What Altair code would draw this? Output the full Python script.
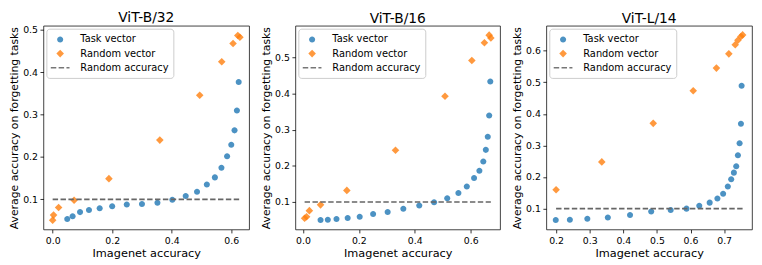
import altair as alt
import pandas as pd

# ---------------- data ----------------
panel_titles = ["ViT-B/32", "ViT-B/16", "ViT-L/14"]
series_names = ["Task vector", "Random vector", "Random accuracy"]
random_accuracy = 0.1

b32_task_x = [0.049, 0.067, 0.092, 0.122, 0.158, 0.200, 0.249, 0.300, 0.352, 0.402,
              0.447, 0.485, 0.518, 0.545, 0.567, 0.586, 0.600, 0.611, 0.619, 0.625]
b32_task_y = [0.054, 0.060, 0.070, 0.075, 0.079, 0.084, 0.088, 0.089, 0.092, 0.099,
              0.108, 0.118, 0.135, 0.152, 0.175, 0.202, 0.229, 0.263, 0.310, 0.377]
b32_rand_x = [0.000, 0.003, 0.020, 0.072, 0.189, 0.360, 0.494, 0.568, 0.606, 0.622, 0.629]
b32_rand_y = [0.051, 0.063, 0.081, 0.098, 0.149, 0.240, 0.346, 0.425, 0.468, 0.487, 0.483]
b32_line_x = [0.0, 0.629]

b16_task_x = [0.063, 0.089, 0.120, 0.160, 0.203, 0.251, 0.303, 0.359, 0.416, 0.469,
              0.516, 0.556, 0.586, 0.612, 0.631, 0.645, 0.654, 0.661, 0.666, 0.670]
b16_task_y = [0.050, 0.051, 0.053, 0.056, 0.059, 0.067, 0.072, 0.081, 0.090, 0.099,
              0.110, 0.125, 0.143, 0.166, 0.186, 0.212, 0.244, 0.280, 0.339, 0.433]
b16_rand_x = [0.006, 0.013, 0.023, 0.063, 0.157, 0.331, 0.508, 0.604, 0.649, 0.666, 0.672]
b16_rand_y = [0.055, 0.059, 0.076, 0.092, 0.132, 0.243, 0.392, 0.491, 0.540, 0.561, 0.553]
b16_line_x = [0.006, 0.672]

l14_task_x = [0.199, 0.241, 0.293, 0.354, 0.420, 0.483, 0.541, 0.588, 0.626, 0.657,
              0.680, 0.697, 0.711, 0.721, 0.729, 0.736, 0.741, 0.746, 0.750, 0.752]
l14_task_y = [0.064, 0.065, 0.068, 0.072, 0.080, 0.091, 0.096, 0.100, 0.109, 0.119,
              0.132, 0.147, 0.170, 0.193, 0.214, 0.234, 0.269, 0.307, 0.369, 0.489]
l14_rand_x = [0.200, 0.336, 0.489, 0.608, 0.677, 0.714, 0.733, 0.741, 0.750, 0.755]
l14_rand_y = [0.160, 0.248, 0.370, 0.473, 0.545, 0.590, 0.619, 0.633, 0.645, 0.650]
l14_line_x = [0.200, 0.755]

x_domains = [[-0.031, 0.660], [-0.027, 0.705], [0.171, 0.783]]
y_domains = [[0.029, 0.510], [0.024, 0.587], [0.034, 0.679]]
x_ticks = [[0.0, 0.1, 0.2, 0.3, 0.4, 0.5, 0.6], [0.0, 0.2, 0.4, 0.6],
           [0.2, 0.3, 0.4, 0.5, 0.6, 0.7]]
y_ticks = [[0.1, 0.2, 0.3, 0.4, 0.5], [0.1, 0.2, 0.3, 0.4, 0.5],
           [0.1, 0.2, 0.3, 0.4, 0.5, 0.6]]

# ---------------- style ----------------
FONT = "DejaVu Sans"
colors = ["#1f77b4", "#ff7f0e", "#555555"]
shapes = [
    "M0.5,0A0.5,0.5,0,1,1,-0.5,0A0.5,0.5,0,1,1,0.5,0Z",
    "M0,-0.63L0.63,0L0,0.63L-0.63,0Z",
    "M-1.552,-0.13H-0.645V0.13H-1.552Z M-0.253,-0.13H0.654V0.13H-0.253Z "
    "M1.046,-0.13H1.552V0.13H1.046Z",
]
widths = [209, 208, 209]
HEIGHT = 207


def panel(i, tx, ty, rx, ry, lx):
    pts = pd.DataFrame({
        "x": tx + rx,
        "y": ty + ry,
        "series": [series_names[0]] * len(tx) + [series_names[1]] * len(rx),
    })
    line = pd.DataFrame({"x": [lx[0]], "x2": [lx[1]], "y": [random_accuracy]})
    xs = alt.Scale(domain=x_domains[i], nice=False, zero=False)
    ys = alt.Scale(domain=y_domains[i], nice=False, zero=False)
    xax = alt.Axis(values=x_ticks[i], format=".1f", title="Imagenet accuracy",
                   titleFontSize=11.5, titlePadding=3, labelFlush=False)
    yax = alt.Axis(values=y_ticks[i], format=".1f",
                   title="Average accuracy on forgetting tasks",
                   titleFontSize=11, titlePadding=3)
    leg = alt.Legend(title=None, orient="top-left", offset=3, padding=4.5,
                     symbolSize=150, symbolOffset=3, labelOffset=14,
                     rowPadding=2.3, labelFontSize=10, labelFont=FONT,
                     labelColor="black", fillColor="white",
                     strokeColor="#cccccc", cornerRadius=3,
                     symbolStrokeWidth=0)
    points = alt.Chart(pts).mark_point(filled=True, size=150, opacity=0.8).encode(
        x=alt.X("x:Q", scale=xs, axis=xax),
        y=alt.Y("y:Q", scale=ys, axis=yax),
        color=alt.Color("series:N", scale=alt.Scale(domain=series_names, range=colors),
                        legend=leg),
        shape=alt.Shape("series:N", scale=alt.Scale(domain=series_names, range=shapes),
                        legend=leg),
    )
    rule = alt.Chart(line).mark_rule(color="#666666", strokeWidth=1.6,
                                     strokeDash=[5.5, 2.5]).encode(
        x=alt.X("x:Q", scale=xs),
        x2="x2:Q",
        y=alt.Y("y:Q", scale=ys),
    )
    return alt.layer(points, rule).properties(
        width=widths[i], height=HEIGHT,
        title=alt.TitleParams(panel_titles[i], fontSize=14, font=FONT,
                              fontWeight="normal", color="black", offset=0),
    )


p1 = panel(0, b32_task_x, b32_task_y, b32_rand_x, b32_rand_y, b32_line_x)
p2 = panel(1, b16_task_x, b16_task_y, b16_rand_x, b16_rand_y, b16_line_x)
p3 = panel(2, l14_task_x, l14_task_y, l14_rand_x, l14_rand_y, l14_line_x)

chart = alt.hconcat(p1, p2, p3, spacing=10).resolve_scale(
    x="independent", y="independent", color="independent", shape="independent"
).resolve_legend(color="independent", shape="independent").properties(
    padding={"left": 0, "top": 0, "right": 1, "bottom": 0}
).configure_view(stroke="#111111", strokeWidth=0.8).configure_axis(
    labelFont=FONT, labelFontSize=9.5, labelColor="black", titleFont=FONT,
    titleFontWeight="normal", titleColor="black", tickColor="black",
    tickSize=3.5, tickWidth=0.8, domain=False, grid=False, labelPadding=2.5,
).configure_title(fontSize=14, font=FONT, fontWeight="normal", color="black")

chart.save("out.html", embed_options={"renderer": "svg", "actions": False})
